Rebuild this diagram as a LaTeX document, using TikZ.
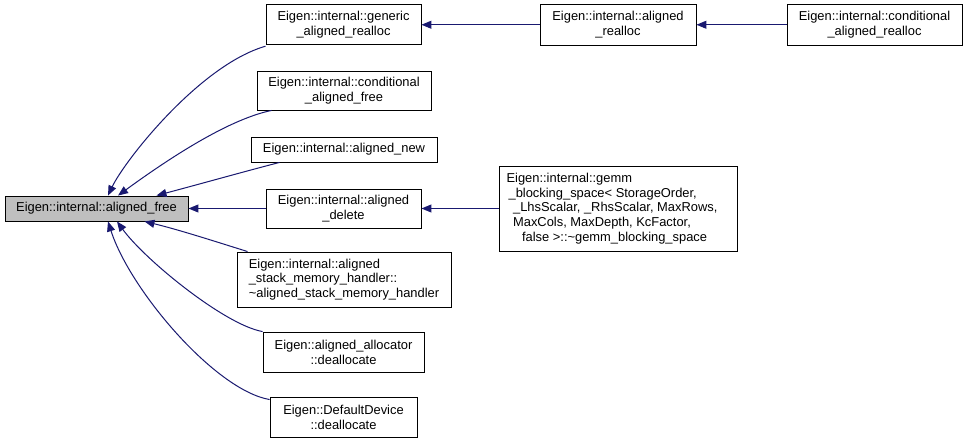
\documentclass[tikz,border=0pt]{standalone}
\usepackage{fontspec}
\setmainfont{Liberation Sans}
\usetikzlibrary{arrows.meta}
\definecolor{edgec}{HTML}{191970}
\definecolor{hl}{HTML}{BFBFBF}
\begin{document}
\begin{tikzpicture}[x=1pt,y=-1pt,
  box/.style={draw=black, fill=white, inner sep=0pt, line width=0.9pt,
    font=\fontsize{12.9}{14.8}\selectfont, align=center},
  edge/.style={draw=edgec, line width=1pt,
    {Triangle[length=10pt,width=8pt]}-}]
\useasboundingbox (0,0) rectangle (968,443);
\fill[white] (0,0) rectangle (968,443);
\node[box, fill=hl, minimum width=183pt, minimum height=25pt] (main) at (96.5,208.5) {Eigen::internal::aligned\_free};
\node[box, minimum width=155pt, minimum height=40pt] (generic) at (343.5,24.75) {Eigen::internal::generic\\\_aligned\_realloc};
\node[box, minimum width=174pt, minimum height=39pt] (condfree) at (344,90.5) {Eigen::internal::conditional\\\_aligned\_free};
\node[box, minimum width=186pt, minimum height=25pt] (new) at (344,149.5) {Eigen::internal::aligned\_new};
\node[box, minimum width=155pt, minimum height=39pt] (delete) at (343.5,208.5) {Eigen::internal::aligned\\\_delete};
\node[box, align=left, minimum width=214pt, minimum height=55pt] (stack) at (344,279.5) {Eigen::internal::aligned\\\_stack\_memory\_handler::\\\textasciitilde aligned\_stack\_memory\_handler};
\node[box, minimum width=161pt, minimum height=40pt] (alloc) at (343.5,352) {Eigen::aligned\_allocator\\::deallocate};
\node[box, minimum width=147pt, minimum height=40pt] (dev) at (343.5,417) {Eigen::DefaultDevice\\::deallocate};
\node[box, minimum width=156pt, minimum height=41pt] (realloc) at (618,24.75) {Eigen::internal::aligned\\\_realloc};
\node[box, minimum width=175pt, minimum height=41pt] (condrealloc) at (874.5,24.75) {Eigen::internal::conditional\\\_aligned\_realloc};
\node[box, align=left, minimum width=238pt, minimum height=85pt] (gemm) at (618,208.5) {Eigen::internal::gemm\\\hspace*{2pt}\_blocking\_space< StorageOrder,\\\hspace*{6.5pt}\_LhsScalar, \_RhsScalar, MaxRows,\hspace*{12pt}\mbox{}\\\hspace*{6.5pt}MaxCols, MaxDepth, KcFactor,\\\hspace*{15.5pt}false >::\textasciitilde gemm\_blocking\_space};

\draw[edge] ([xshift=11.5pt]main.north) .. controls (125,160) and (200,65) .. ([yshift=-1pt]generic.south west);
\draw[edge] ([xshift=21.5pt]main.north) .. controls (160,165) and (225,120) .. ([xshift=15pt]condfree.south west);
\draw[edge] ([xshift=60pt]main.north) .. controls (200,184) and (250,170) .. ([xshift=29pt]new.south west);
\draw[edge] (main.east) -- (delete.west);
\draw[edge] ([xshift=48pt]main.south) .. controls (180,230) and (220,243) .. ([xshift=11pt]stack.north west);
\draw[edge] ([xshift=20.5pt]main.south) .. controls (145,260) and (225,325) .. (alloc.north west);
\draw[edge] ([xshift=11.5pt]main.south) .. controls (130,290) and (215,390) .. ([yshift=-3pt]dev.north west);
\draw[edge] (generic.east) -- (realloc.west);
\draw[edge] (realloc.east) -- (condrealloc.west);
\draw[edge] (delete.east) -- (gemm.west);
\end{tikzpicture}
\end{document}
